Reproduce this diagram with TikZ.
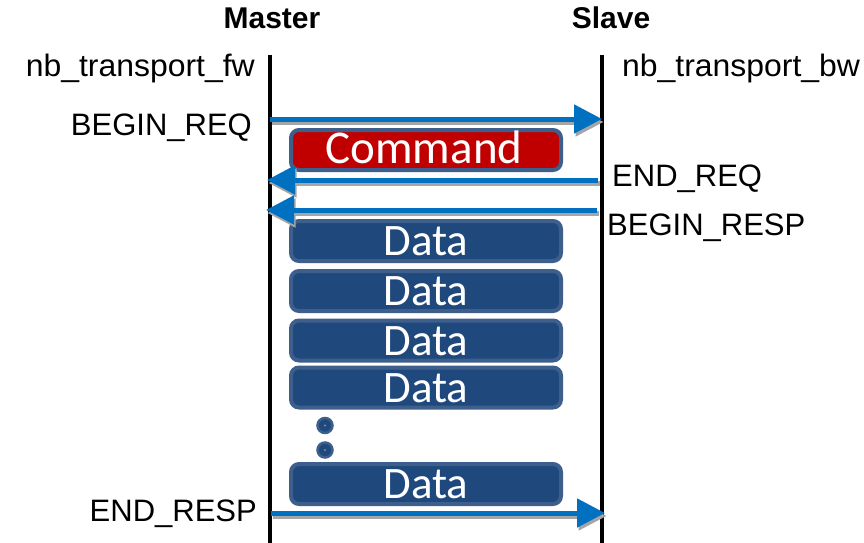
\documentclass[tikz,border=0pt]{standalone}
\usepackage{fontspec}
\setmainfont{Liberation Sans}
\newfontfamily\boxfont{Carlito}
\usetikzlibrary{arrows.meta}
\definecolor{msgblue}{RGB}{0,112,192}
\definecolor{shadowgray}{RGB}{165,165,165}
\definecolor{boxfill}{RGB}{31,73,125}
\definecolor{boxedge}{RGB}{62,94,140}
\definecolor{cmdred}{RGB}{192,0,0}
\newcommand\widetext[1]{\scalebox{1.03}[1]{#1}}
\tikzset{
  lifeline/.style={line width=4pt},
  msg/.style={line width=5pt, draw=msgblue,
    -{Triangle[length=28pt,width=28pt,fill=msgblue]}},
  msgshadow/.style={line width=5pt, draw=shadowgray,
    -{Triangle[length=28pt,width=28pt,fill=shadowgray]}},
  lbl/.style={font=\fontsize{31}{31}\selectfont, inner sep=0pt},
  head/.style={font=\bfseries\fontsize{30}{30}\selectfont, inner sep=0pt, anchor=base},
  pkt/.style={draw=boxedge, line width=4pt, rounded corners=8pt, fill=boxfill,
    minimum width=270pt, minimum height=40pt, inner sep=0pt},
  pkttext/.style={text=white, inner sep=0pt, anchor=base,
    font=\boxfont\fontsize{45}{45}\selectfont},
  dot/.style={circle, fill=boxfill, draw=boxedge, line width=2.5pt,
    minimum size=15pt, inner sep=0pt}
}
\begin{document}
\begin{tikzpicture}[x=1pt,y=-1pt]
\useasboundingbox (0,0) rectangle (864,543);

% column headings
\node[head] (master) at (272,29) {Master};
\node[head] (slave) at (611,29) {Slave};

% lifelines
\coordinate (mtop) at (270,55);
\coordinate (mbot) at (270,543);
\coordinate (stop) at (602,55);
\coordinate (sbot) at (602,543);
\draw[lifeline] (mtop) -- (mbot);
\draw[lifeline] (stop) -- (sbot);

% interface names
\node[lbl, anchor=base east] (fw) at (255,76.7) {\widetext{nb\_transport\_fw}};
\node[lbl, anchor=base west] (bw) at (622,76.7) {\widetext{nb\_transport\_bw}};

% transaction packets
\node[pkt, fill=cmdred] (cmd) at (426,150) {};
\node[pkttext, font=\boxfont\fontsize{47}{47}\selectfont] (cmdt) at (424,163.5) {Command};
\foreach \i/\y in {1/241,2/291,3/340.5,4/387.5,5/484}{
  \node[pkt] (data\i) at (426,\y) {};
  \node[pkttext] (datat\i) at (426,\y+14.5) {Data};
}
\node[dot] (dot1) at (325,425.5) {};
\node[dot] (dot2) at (325,450) {};
\fill[boxedge!70!white] (dot1) circle (1.2pt) (dot2) circle (1.2pt);

% message end points
\coordinate (m1) at (270,119);  \coordinate (s1) at (602,119);
\coordinate (s2) at (598,180);  \coordinate (m2) at (267,180);
\coordinate (s3) at (597,210);  \coordinate (m3) at (266,210);
\coordinate (m4) at (271,513);  \coordinate (s4) at (605,513);

% drop shadows of the phase arrows
\foreach \a/\b in {m1/s1,s2/m2,s3/m3,m4/s4}{
  \draw[msgshadow] ([shift={(1.5,3)}]\a) -- ([shift={(1.5,3)}]\b);
}
% phases
\draw[msg] (m1) -- (s1);
\draw[msg] (s2) -- (m2);
\draw[msg] (s3) -- (m3);
\draw[msg] (m4) -- (s4);

% phase labels
\node[lbl, anchor=base east] (breq) at (252,135) {BEGIN\_REQ};
\node[lbl, anchor=base west] (ereq) at (612,186.7) {END\_REQ};
\node[lbl, anchor=base west] (bresp) at (607,235) {BEGIN\_RESP};
\node[lbl, anchor=base east] (eresp) at (257,521.7) {END\_RESP};
\end{tikzpicture}
\end{document}
